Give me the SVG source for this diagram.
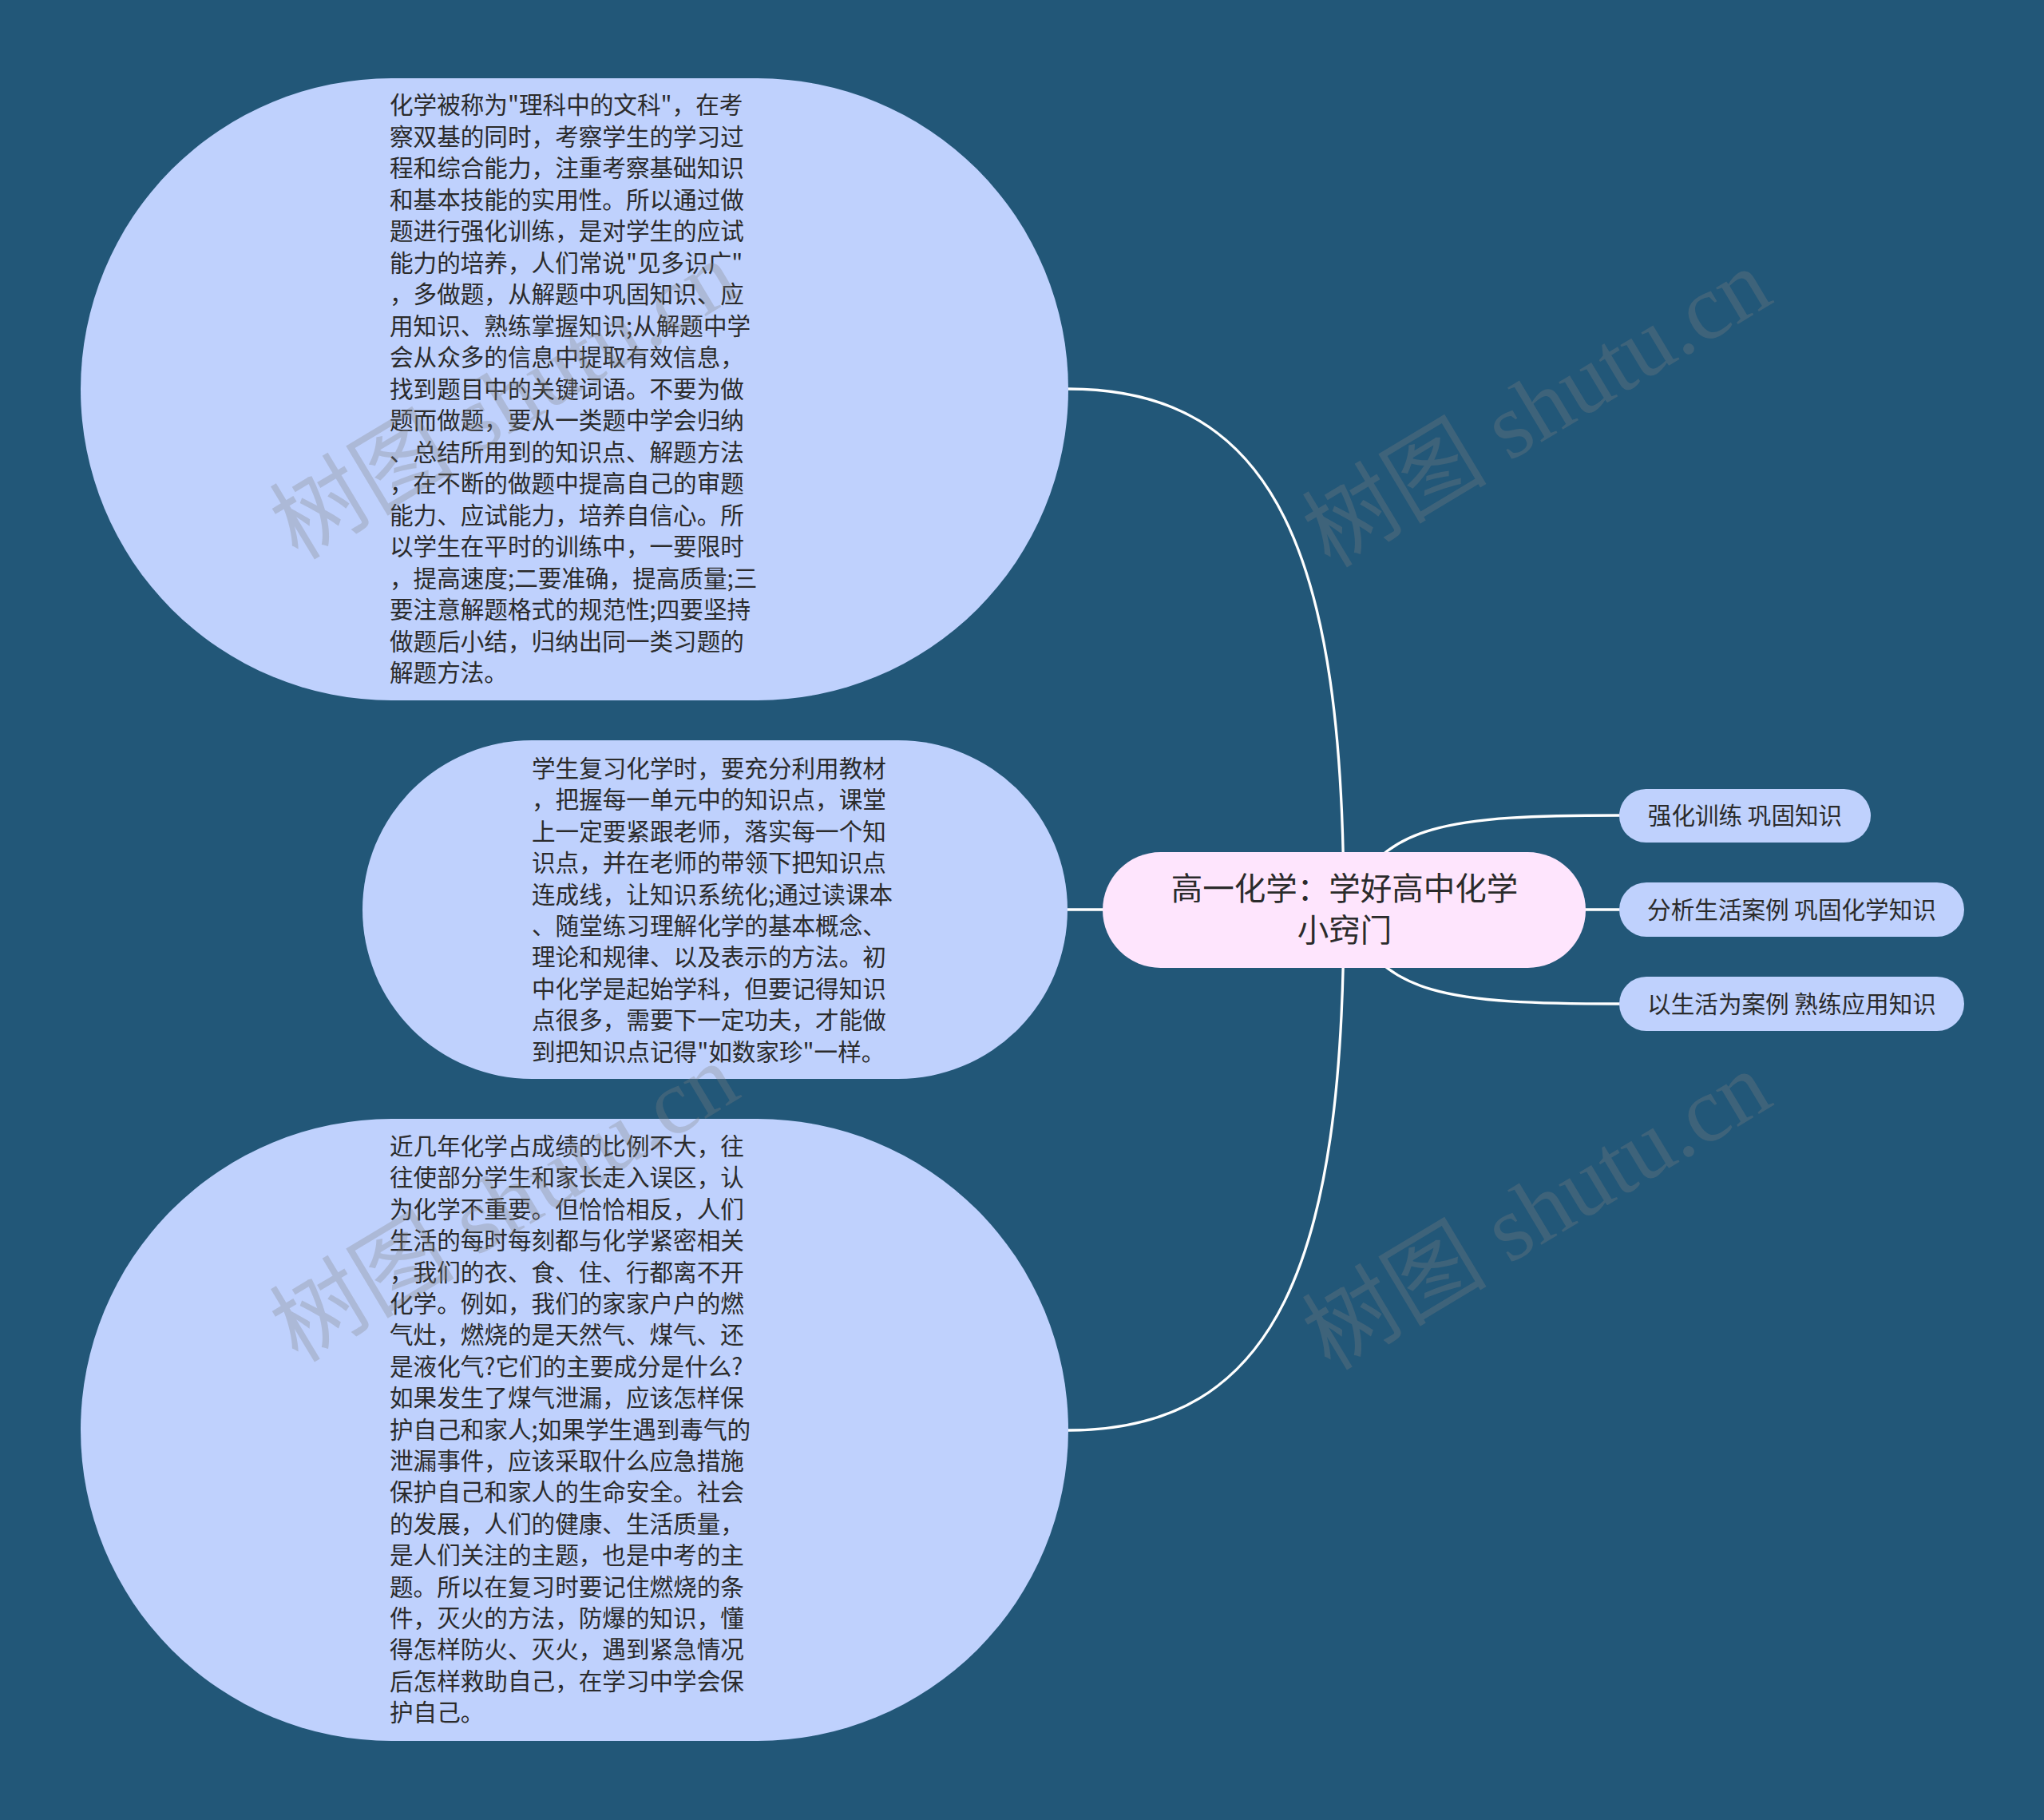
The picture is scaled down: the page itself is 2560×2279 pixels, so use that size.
<svg xmlns="http://www.w3.org/2000/svg" width="2560" height="2279" viewBox="0 0 2560 2279">
<style>
.bg{fill:#225778}
.topic{fill:#bfd1fd}
.root{fill:#fee5fd}
.link{fill:none;stroke:#ffffff;stroke-width:3.3;stroke-linecap:round}
.t{font-family:"Noto Sans CJK SC","Noto Sans",sans-serif;fill:#2b2b2b}
.body{font-size:29.6px}
.rt{font-size:39.5px}
.wm{font-family:"Liberation Serif","Noto Sans CJK SC",serif;font-size:116px;fill:#808080;fill-opacity:0.3}
</style>
<rect class="bg" x="0" y="0" width="2560" height="2279"/>
<g id="connectors">
<path class="link" d="M1338,487 C1600,487 1683,700 1683,1139"/>
<path class="link" d="M1337,1139 L1683,1139"/>
<path class="link" d="M1338,1791 C1600,1791 1683,1578 1683,1139"/>
<path class="link" d="M1690,1139 C1722,1030 1820,1021 2028,1021"/>
<path class="link" d="M1683,1139 L2028,1139"/>
<path class="link" d="M1690,1139 C1722,1248 1820,1257 2028,1257"/>
</g>
<g id="node-root">
<rect class="root" x="1381" y="1067" width="605" height="145" rx="72.5" ry="72.5"/>
<text class="t rt" text-anchor="middle" x="1684" y="1127">高一化学：学好高中化学</text>
<text class="t rt" text-anchor="middle" x="1684" y="1179">小窍门</text>
</g>
<g id="node-1">
<rect class="topic" x="101" y="98" width="1237" height="779" rx="389.5" ry="389.5"/>
<text class="t body" x="488" y="142">
<tspan x="488" dy="0">化学被称为"理科中的文科"，在考</tspan>
<tspan x="488" dy="39.5">察双基的同时，考察学生的学习过</tspan>
<tspan x="488" dy="39.5">程和综合能力，注重考察基础知识</tspan>
<tspan x="488" dy="39.5">和基本技能的实用性。所以通过做</tspan>
<tspan x="488" dy="39.5">题进行强化训练，是对学生的应试</tspan>
<tspan x="488" dy="39.5">能力的培养，人们常说"见多识广"</tspan>
<tspan x="488" dy="39.5">，多做题，从解题中巩固知识、应</tspan>
<tspan x="488" dy="39.5">用知识、熟练掌握知识;从解题中学</tspan>
<tspan x="488" dy="39.5">会从众多的信息中提取有效信息，</tspan>
<tspan x="488" dy="39.5">找到题目中的关键词语。不要为做</tspan>
<tspan x="488" dy="39.5">题而做题，要从一类题中学会归纳</tspan>
<tspan x="488" dy="39.5">、总结所用到的知识点、解题方法</tspan>
<tspan x="488" dy="39.5">，在不断的做题中提高自己的审题</tspan>
<tspan x="488" dy="39.5">能力、应试能力，培养自信心。所</tspan>
<tspan x="488" dy="39.5">以学生在平时的训练中，一要限时</tspan>
<tspan x="488" dy="39.5">，提高速度;二要准确，提高质量;三</tspan>
<tspan x="488" dy="39.5">要注意解题格式的规范性;四要坚持</tspan>
<tspan x="488" dy="39.5">做题后小结，归纳出同一类习题的</tspan>
<tspan x="488" dy="39.5">解题方法。</tspan>
</text>
</g>
<g id="node-2">
<rect class="topic" x="454" y="927" width="883" height="424" rx="212" ry="212"/>
<text class="t body" x="666" y="973">
<tspan x="666" dy="0">学生复习化学时，要充分利用教材</tspan>
<tspan x="666" dy="39.4">，把握每一单元中的知识点，课堂</tspan>
<tspan x="666" dy="39.4">上一定要紧跟老师，落实每一个知</tspan>
<tspan x="666" dy="39.4">识点，并在老师的带领下把知识点</tspan>
<tspan x="666" dy="39.4">连成线，让知识系统化;通过读课本</tspan>
<tspan x="666" dy="39.4">、随堂练习理解化学的基本概念、</tspan>
<tspan x="666" dy="39.4">理论和规律、以及表示的方法。初</tspan>
<tspan x="666" dy="39.4">中化学是起始学科，但要记得知识</tspan>
<tspan x="666" dy="39.4">点很多，需要下一定功夫，才能做</tspan>
<tspan x="666" dy="39.4">到把知识点记得"如数家珍"一样。</tspan>
</text>
</g>
<g id="node-3">
<rect class="topic" x="101" y="1401" width="1237" height="779" rx="389.5" ry="389.5"/>
<text class="t body" x="488" y="1446">
<tspan x="488" dy="0">近几年化学占成绩的比例不大，往</tspan>
<tspan x="488" dy="39.4">往使部分学生和家长走入误区，认</tspan>
<tspan x="488" dy="39.4">为化学不重要。但恰恰相反，人们</tspan>
<tspan x="488" dy="39.4">生活的每时每刻都与化学紧密相关</tspan>
<tspan x="488" dy="39.4">，我们的衣、食、住、行都离不开</tspan>
<tspan x="488" dy="39.4">化学。例如，我们的家家户户的燃</tspan>
<tspan x="488" dy="39.4">气灶，燃烧的是天然气、煤气、还</tspan>
<tspan x="488" dy="39.4">是液化气?它们的主要成分是什么?</tspan>
<tspan x="488" dy="39.4">如果发生了煤气泄漏，应该怎样保</tspan>
<tspan x="488" dy="39.4">护自己和家人;如果学生遇到毒气的</tspan>
<tspan x="488" dy="39.4">泄漏事件，应该采取什么应急措施</tspan>
<tspan x="488" dy="39.4">保护自己和家人的生命安全。社会</tspan>
<tspan x="488" dy="39.4">的发展，人们的健康、生活质量，</tspan>
<tspan x="488" dy="39.4">是人们关注的主题，也是中考的主</tspan>
<tspan x="488" dy="39.4">题。所以在复习时要记住燃烧的条</tspan>
<tspan x="488" dy="39.4">件，灭火的方法，防爆的知识，懂</tspan>
<tspan x="488" dy="39.4">得怎样防火、灭火，遇到紧急情况</tspan>
<tspan x="488" dy="39.4">后怎样救助自己，在学习中学会保</tspan>
<tspan x="488" dy="39.4">护自己。</tspan>
</text>
</g>
<g id="node-a">
<rect class="topic" x="2028" y="988" width="315" height="67" rx="33.5" ry="33.5"/>
<text class="t body" text-anchor="middle" x="2185.5" y="1032">强化训练 巩固知识</text>
</g>
<g id="node-b">
<rect class="topic" x="2028" y="1105" width="432" height="68" rx="34" ry="34"/>
<text class="t body" text-anchor="middle" x="2244" y="1150">分析生活案例 巩固化学知识</text>
</g>
<g id="node-c">
<rect class="topic" x="2028" y="1223" width="432" height="68" rx="34" ry="34"/>
<text class="t body" text-anchor="middle" x="2244" y="1268">以生活为案例 熟练应用知识</text>
</g>
<g id="watermarks">
<text class="wm" text-anchor="middle" transform="translate(652,535) rotate(-31)">树图 shutu.cn</text>
<text class="wm" text-anchor="middle" transform="translate(1945,545) rotate(-31)">树图 shutu.cn</text>
<text class="wm" text-anchor="middle" transform="translate(652,1540) rotate(-31)">树图 shutu.cn</text>
<text class="wm" text-anchor="middle" transform="translate(1945,1550) rotate(-31)">树图 shutu.cn</text>
</g>
</svg>
